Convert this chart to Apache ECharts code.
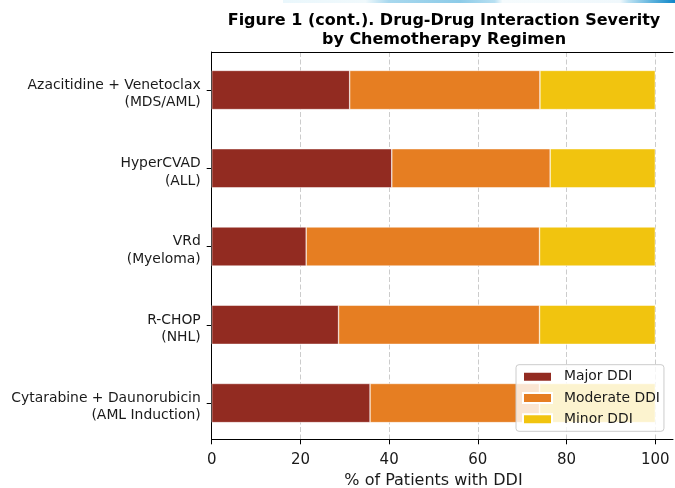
<!DOCTYPE html>
<html>
<head>
<meta charset="utf-8">
<script src="https://cdn.jsdelivr.net/npm/echarts@6/dist/echarts.min.js"></script>
<style>html,body{margin:0;padding:0;background:#fff}#c{width:675px;height:488px}</style>
</head>
<body>
<div id="c"></div>
<script>
var categories = [
  "Azacitidine + Venetoclax\n(MDS/AML)",
  "HyperCVAD\n(ALL)",
  "VRd\n(Myeloma)",
  "R-CHOP\n(NHL)",
  "Cytarabine + Daunorubicin\n(AML Induction)"
];
var majorDDI = [31.1, 40.6, 21.3, 28.6, 35.7];
var moderateDDI = [42.9, 35.7, 52.6, 45.3, 38.2];
var minorDDI = [26.0, 23.7, 26.1, 26.1, 26.1];
var xTicks = [0, 20, 40, 60, 80, 100];

var FONT = "DejaVu Sans";
var TXT = "#1a1a1a";
var L = 211.7, PX = 4.436, W100 = 100 * PX, WFULL = 461.3;
var chart = echarts.init(document.getElementById('c'), null, {renderer: 'canvas'});

function barSeries(name, data, color) {
  return {
    name: name, type: 'bar', stack: 'ddi', data: data,
    xAxisIndex: 0, yAxisIndex: 0, barWidth: '50%',
    itemStyle: {color: color, borderColor: '#ffffff', borderWidth: 0.5},
    emphasis: {disabled: true}, z: 3
  };
}

chart.setOption({
  animation: false,
  backgroundColor: '#ffffff',
  textStyle: {fontFamily: FONT},
  title: {
    text: "Figure 1 (cont.). Drug-Drug Interaction Severity\nby Chemotherapy Regimen",
    left: 439, top: 6.7, textAlign: 'center',
    textStyle: {fontFamily: FONT, fontWeight: 'bold', fontSize: 16, lineHeight: 19, color: '#000'}
  },
  graphic: [{
    type: 'rect', shape: {x: 283, y: 0, width: 392, height: 3}, silent: true,
    style: {fill: new echarts.graphic.LinearGradient(0, 0, 1, 0, [
      {offset: 0, color: '#eaf7fc'}, {offset: 0.21, color: '#f0f9fc'},
      {offset: 0.27, color: '#a8d8ee'}, {offset: 0.45, color: '#8ccbe8'},
      {offset: 0.54, color: '#b8e0f2'}, {offset: 0.56, color: '#f5fbfd'},
      {offset: 0.86, color: '#f0f8fc'}, {offset: 0.88, color: '#bfe3f3'},
      {offset: 0.94, color: '#5fb3dd'}, {offset: 1, color: '#0e86c8'}
    ])}
  }],
  legend: {
    data: ['Major DDI', 'Moderate DDI', 'Minor DDI'],
    orient: 'vertical', left: 516, top: 364.7,
    itemWidth: 29, itemHeight: 10, itemGap: 5.3,
    padding: [4, 4, 4, 6],
    icon: 'rect',
    backgroundColor: 'rgba(255,255,255,0.8)',
    borderColor: '#cccccc', borderWidth: 1, borderRadius: 3,
    textStyle: {fontFamily: FONT, fontSize: 13.9, color: TXT, lineHeight: 16, padding: [0, 0, 0, 7]},
    z: 10
  },
  grid: [
    {left: L, width: W100, top: 50.87, height: 391.3, containLabel: false, outerBoundsMode: 'none'},
    {left: L, width: W100, top: 52, height: 387.3, containLabel: false, outerBoundsMode: 'none'},
    {left: L, width: WFULL, top: 52, height: 387.3, containLabel: false, outerBoundsMode: 'none'}
  ],
  xAxis: [
    {gridIndex: 0, type: 'value', min: 0, max: 100, show: false},
    {gridIndex: 1, type: 'value', min: 0, max: 100, interval: 20, position: 'bottom',
      axisLine: {show: false},
      axisTick: {show: true, length: 5, lineStyle: {color: '#000', width: 1}},
      axisLabel: {show: true, margin: 13.7, fontFamily: FONT, fontSize: 15, color: TXT,
        formatter: function (v) { return xTicks.indexOf(v) >= 0 ? String(v) : ''; }},
      splitLine: {show: true, lineStyle: {color: '#cccccc', type: [5, 2.5], width: 1}},
      name: '% of Patients with DDI', nameLocation: 'middle', nameGap: 34,
      nameTextStyle: {fontFamily: FONT, fontSize: 16, color: TXT}
    },
    {gridIndex: 2, type: 'value', min: 0, max: 1, position: 'bottom',
      axisLine: {show: true, lineStyle: {color: '#000', width: 1}},
      axisTick: {show: false}, axisLabel: {show: false}, splitLine: {show: false}},
    {gridIndex: 2, type: 'value', min: 0, max: 1, position: 'top',
      axisLine: {show: true, lineStyle: {color: '#000', width: 1}},
      axisTick: {show: false}, axisLabel: {show: false}, splitLine: {show: false}}
  ],
  yAxis: [
    {gridIndex: 0, type: 'category', data: categories, inverse: true,
      axisLine: {show: false},
      axisTick: {show: true, alignWithLabel: true, length: 5, lineStyle: {color: '#000', width: 1}},
      axisLabel: {show: true, margin: 11, align: 'right',
        formatter: function (v) {
          var parts = v.split('\n');
          return '{s|}\n{n|' + parts[0] + '}\n{n|' + parts[1] + '}';
        },
        rich: {
          s: {height: 8, lineHeight: 8, fontSize: 8},
          n: {fontFamily: FONT, fontSize: 13.9, lineHeight: 17.7, color: TXT, align: 'right'}
        }
      },
      splitLine: {show: false}
    },
    {gridIndex: 1, type: 'value', min: 0, max: 1, show: false},
    {gridIndex: 2, type: 'value', min: 0, max: 1, position: 'left',
      axisLine: {show: true, lineStyle: {color: '#000', width: 1}},
      axisTick: {show: false}, axisLabel: {show: false}, splitLine: {show: false}}
  ],
  series: [
    barSeries('Major DDI', majorDDI, '#922B21'),
    barSeries('Moderate DDI', moderateDDI, '#E67E22'),
    barSeries('Minor DDI', minorDDI, '#F1C40F')
  ]
});
</script>
</body>
</html>
